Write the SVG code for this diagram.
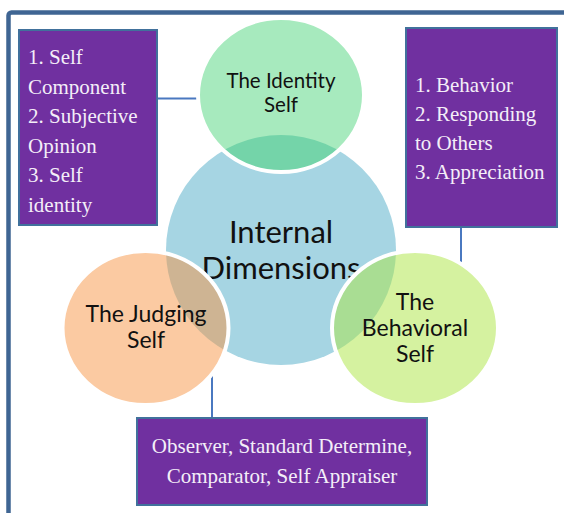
<svg xmlns="http://www.w3.org/2000/svg" width="564" height="513" viewBox="0 0 564 513">
  <defs>
    <style>
      .frame { fill: none; stroke: #3f6593; stroke-width: 4.5; }
      .box { fill: #7030a0; stroke: #41719c; stroke-width: 2; }
      .boxtext { font-size: 21px; fill: #f4eef8; }
      .link { stroke: #4a78c0; stroke-width: 2; fill: none; }
      .ctext { fill: #111; text-anchor: middle; }
      .ring { fill: none; stroke: #ffffff; stroke-width: 4; }
    </style>
    <ellipse id="identityShape" cx="281" cy="95" rx="83" ry="77"/>
    <ellipse id="judgingShape" cx="145.5" cy="328" rx="83" ry="77"/>
    <ellipse id="behavioralShape" cx="415" cy="328" rx="83" ry="77"/>
    <circle id="coreShape" cx="281" cy="250" r="115"/>
    <clipPath id="clipIdentity"><use href="#identityShape"/></clipPath>
    <clipPath id="clipJudging"><use href="#judgingShape"/></clipPath>
    <clipPath id="clipBehavioral"><use href="#behavioralShape"/></clipPath>
  </defs>

  <rect width="564" height="513" fill="#ffffff"/>

  <!-- outer frame, continuing past the right and bottom edges -->
  <rect class="frame" x="8.5" y="12.5" width="580" height="540" rx="3"/>

  <!-- connectors -->
  <g id="connectors">
    <line class="link" x1="157" y1="98.5" x2="200" y2="98.5"/>
    <line class="link" x1="461" y1="224" x2="461" y2="265"/>
    <line class="link" x1="212" y1="372" x2="212" y2="419"/>
  </g>

  <!-- circles: labels use Lato, boxes use a Times-metric serif -->
  <g font-family="Lato, 'Open Sans', sans-serif">
    <g id="internal-dimensions">
      <use href="#coreShape" fill="#a6d5e3"/>
      <text class="ctext" font-size="31" x="281" y="243">Internal</text>
      <text class="ctext" font-size="31" x="281" y="279">Dimensions</text>
    </g>

    <g id="identity-self">
      <use href="#identityShape" fill="#a7eabe"/>
      <use href="#coreShape" fill="#74d4a9" clip-path="url(#clipIdentity)"/>
      <use href="#identityShape" class="ring"/>
      <text class="ctext" font-size="20.5" x="281" y="88">The Identity</text>
      <text class="ctext" font-size="20.5" x="281" y="112">Self</text>
    </g>

    <g id="judging-self">
      <use href="#judgingShape" fill="#fbcaa2"/>
      <use href="#coreShape" fill="#ceb493" clip-path="url(#clipJudging)"/>
      <use href="#judgingShape" class="ring"/>
      <text class="ctext" font-size="23" x="146" y="322">The Judging</text>
      <text class="ctext" font-size="23" x="146" y="348">Self</text>
    </g>

    <g id="behavioral-self">
      <use href="#behavioralShape" fill="#d5f2a0"/>
      <use href="#coreShape" fill="#a9dd93" clip-path="url(#clipBehavioral)"/>
      <use href="#behavioralShape" class="ring"/>
      <text class="ctext" font-size="23" x="415" y="310">The</text>
      <text class="ctext" font-size="23" x="415" y="336">Behavioral</text>
      <text class="ctext" font-size="23" x="415" y="362">Self</text>
    </g>
  </g>

  <!-- description boxes -->
  <g font-family="'Liberation Serif', Tinos, 'DejaVu Serif', serif">
    <g id="identity-box">
      <rect class="box" x="19" y="30" width="138" height="195"/>
      <text class="boxtext" x="28" y="64">1. Self</text>
      <text class="boxtext" x="28" y="94">Component</text>
      <text class="boxtext" x="28" y="123">2. Subjective</text>
      <text class="boxtext" x="28" y="153">Opinion</text>
      <text class="boxtext" x="28" y="182">3. Self</text>
      <text class="boxtext" x="28" y="212">identity</text>
    </g>

    <g id="behavioral-box">
      <rect class="box" x="406" y="28" width="151" height="199"/>
      <text class="boxtext" x="415" y="92">1. Behavior</text>
      <text class="boxtext" x="415" y="121">2. Responding</text>
      <text class="boxtext" x="415" y="150">to Others</text>
      <text class="boxtext" x="415" y="179">3. Appreciation</text>
    </g>

    <g id="judging-box">
      <rect class="box" x="137" y="418" width="290" height="87"/>
      <text class="boxtext" x="282" y="453" text-anchor="middle">Observer, Standard Determine,</text>
      <text class="boxtext" x="282" y="483" text-anchor="middle">Comparator, Self Appraiser</text>
    </g>
  </g>
</svg>
